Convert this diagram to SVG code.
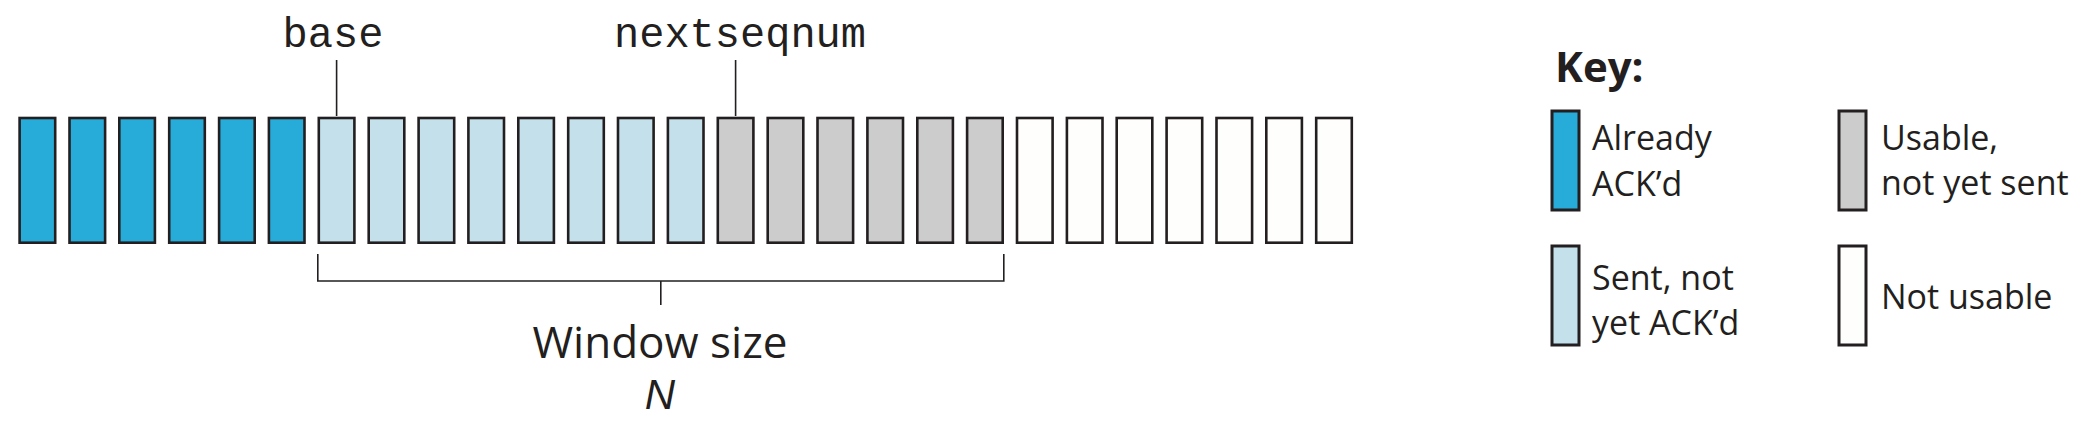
<svg xmlns="http://www.w3.org/2000/svg" width="2090" height="422" viewBox="0 0 2090 422">
<style>
.b{stroke:#231f20;stroke-width:2.6}
.acked{fill:#27acd9}
.sent{fill:#c3e0eb}
.usable{fill:#cccccc}
.unusable{fill:#fefefc}
.mono{font-family:"Liberation Mono","Courier New",monospace;font-size:42px;fill:#231f20}
.sans{font-family:"Open Sans","Noto Sans",sans-serif;fill:#231f20}
.lbl{font-size:34px}
.ln{stroke:#231f20;stroke-width:1.6;fill:none}
</style>
<rect width="2090" height="422" fill="#ffffff"/>
<g id="packets">
<rect class="b acked" x="19.6" y="118" width="35.6" height="124.7"/>
<rect class="b acked" x="69.5" y="118" width="35.6" height="124.7"/>
<rect class="b acked" x="119.3" y="118" width="35.6" height="124.7"/>
<rect class="b acked" x="169.2" y="118" width="35.6" height="124.7"/>
<rect class="b acked" x="219.1" y="118" width="35.6" height="124.7"/>
<rect class="b acked" x="268.9" y="118" width="35.6" height="124.7"/>
<rect class="b sent" x="318.8" y="118" width="35.6" height="124.7"/>
<rect class="b sent" x="368.7" y="118" width="35.6" height="124.7"/>
<rect class="b sent" x="418.6" y="118" width="35.6" height="124.7"/>
<rect class="b sent" x="468.4" y="118" width="35.6" height="124.7"/>
<rect class="b sent" x="518.3" y="118" width="35.6" height="124.7"/>
<rect class="b sent" x="568.2" y="118" width="35.6" height="124.7"/>
<rect class="b sent" x="618.0" y="118" width="35.6" height="124.7"/>
<rect class="b sent" x="667.9" y="118" width="35.6" height="124.7"/>
<rect class="b usable" x="717.8" y="118" width="35.6" height="124.7"/>
<rect class="b usable" x="767.7" y="118" width="35.6" height="124.7"/>
<rect class="b usable" x="817.5" y="118" width="35.6" height="124.7"/>
<rect class="b usable" x="867.4" y="118" width="35.6" height="124.7"/>
<rect class="b usable" x="917.3" y="118" width="35.6" height="124.7"/>
<rect class="b usable" x="967.1" y="118" width="35.6" height="124.7"/>
<rect class="b unusable" x="1017.0" y="118" width="35.6" height="124.7"/>
<rect class="b unusable" x="1066.9" y="118" width="35.6" height="124.7"/>
<rect class="b unusable" x="1116.7" y="118" width="35.6" height="124.7"/>
<rect class="b unusable" x="1166.6" y="118" width="35.6" height="124.7"/>
<rect class="b unusable" x="1216.5" y="118" width="35.6" height="124.7"/>
<rect class="b unusable" x="1266.3" y="118" width="35.6" height="124.7"/>
<rect class="b unusable" x="1316.2" y="118" width="35.6" height="124.7"/>
</g>
<g id="base-label">
<text class="mono" x="333" y="47" text-anchor="middle">base</text>
</g>
<g id="nextseqnum-label">
<text class="mono" x="740" y="47" text-anchor="middle">nextseqnum</text>
</g>
<g id="window-label">
<text class="sans" x="660" y="358" text-anchor="middle" font-size="44">Window size</text>
<text x="660" y="409" text-anchor="middle" font-size="42" font-style="italic" font-family="'Liberation Sans',Arial,sans-serif" fill="#231f20">N</text>
</g>
<g id="connectors">
<line class="ln" x1="336.6" y1="60" x2="336.6" y2="116"/>
<line class="ln" x1="735.6" y1="60" x2="735.6" y2="116"/>
<polyline class="ln" points="317.8,254 317.8,281 1003.8,281 1003.8,254"/>
<line class="ln" x1="660.8" y1="281" x2="660.8" y2="305"/>
</g>
<g id="key">
<text class="sans" x="1555" y="82" font-size="42" font-weight="bold">Key:</text>
<g id="key-acked">
<rect class="b acked" x="1552" y="111" width="27" height="99" style="stroke-width:3"/>
<text class="sans lbl" x="1592" y="150">Already</text>
<text class="sans lbl" x="1592" y="196">ACK’d</text>
</g>
<g id="key-sent">
<rect class="b sent" x="1552" y="246" width="27" height="99" style="stroke-width:3"/>
<text class="sans lbl" x="1592" y="290">Sent, not</text>
<text class="sans lbl" x="1592" y="335">yet ACK’d</text>
</g>
<g id="key-usable">
<rect class="b usable" x="1839" y="111" width="27" height="99" style="stroke-width:3"/>
<text class="sans lbl" x="1881" y="150">Usable,</text>
<text class="sans lbl" x="1881" y="195">not yet sent</text>
</g>
<g id="key-unusable">
<rect class="b unusable" x="1839" y="246" width="27" height="99" style="stroke-width:3"/>
<text class="sans lbl" x="1881" y="309">Not usable</text>
</g>
</g>
</svg>
